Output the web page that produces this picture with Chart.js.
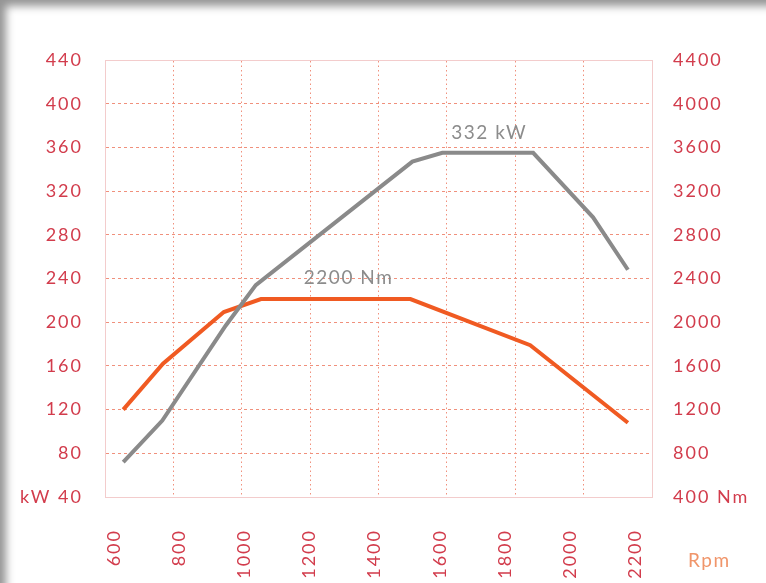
<!DOCTYPE html>
<html>
<head>
<meta charset="utf-8">
<script src="https://cdn.jsdelivr.net/npm/chart.js@4/dist/chart.umd.min.js"></script>
<style>
  html, body { margin: 0; padding: 0; background: #fff; }
  #wrap { position: relative; width: 766px; height: 583px; overflow: hidden; }
  #shade {
    position: absolute; left: 0; top: 0; width: 766px; height: 583px;
    box-shadow: inset 9px 9px 8px -3px rgba(0, 0, 0, 0.42);
    pointer-events: none;
  }
</style>
</head>
<body>
<div id="wrap">
  <canvas id="curve" width="766" height="583"></canvas>
  <div id="shade"></div>
</div>
<script>
// x ticks (rpm) and the two left/right axis ranges
const rpmTicks = [600, 800, 1000, 1200, 1400, 1600, 1800, 2000, 2200];
const kwTicks = [40, 80, 120, 160, 200, 240, 280, 320, 360, 400, 440];
const nmTicks = [400, 800, 1200, 1600, 2000, 2400, 2800, 3200, 3600, 4000, 4400];

// power curve (kW, left axis)
const powerRpm = [628, 748, 943, 1035, 1516, 1608, 1887, 2071, 2178];
const powerKw = [72, 110, 197, 234, 347, 355, 355, 296, 248];

// torque curve (Nm, right axis)
const torqueRpm = [628, 750, 937, 1051, 1510, 1878, 2178];
const torqueNm = [1200, 1620, 2093, 2212, 2212, 1790, 1080];

const tickRed = "#d23c4c";
const gridPink = "#f0907c";
const framePink = "#f3cccc";
const labelFont = { family: "Lato", size: 18 };

// gap the letters a bit, the original face is wide
const spacing = {
  id: "spacing",
  beforeDraw(chart) {
    chart.ctx.letterSpacing = "2px";
  },
};

const notes = {
  id: "notes",
  afterDatasetsDraw(chart) {
    const { ctx, scales } = chart;
    ctx.save();
    ctx.letterSpacing = "1.5px";
    ctx.font = "19px Lato";
    ctx.fillStyle = "#8c8c8c";
    ctx.textAlign = "center";
    ctx.textBaseline = "middle";
    ctx.fillText("332 kW", scales.x.getPixelForValue(1752), scales.y.getPixelForValue(373));
    ctx.fillText("2200 Nm", scales.x.getPixelForValue(1320), scales.y.getPixelForValue(241));
    ctx.fillStyle = "#f0956a";
    ctx.textAlign = "left";
    ctx.fillText("Rpm", chart.chartArea.right + 36, chart.chartArea.bottom + 64);
    ctx.restore();
  },
};

new Chart(document.getElementById("curve"), {
  type: "line",
  data: {
    datasets: [
      {
        label: "kW",
        data: powerRpm.map((r, i) => ({ x: r, y: powerKw[i] })),
        borderColor: "#8a8a8a",
        borderWidth: 4,
        pointRadius: 0,
        yAxisID: "y",
      },
      {
        label: "Nm",
        data: torqueRpm.map((r, i) => ({ x: r, y: torqueNm[i] })),
        borderColor: "#f05a22",
        borderWidth: 4,
        pointRadius: 0,
        yAxisID: "y2",
      },
    ],
  },
  options: {
    responsive: false,
    animation: false,
    layout: { padding: 0 },
    plugins: { legend: { display: false }, tooltip: { enabled: false } },
    scales: {
      x: {
        type: "linear",
        position: "bottom",
        min: 572,
        max: 2252,
        afterBuildTicks: (s) => { s.ticks = rpmTicks.map((v) => ({ value: v })); },
        afterFit: (s) => { s.height = 86; },
        ticks: {
          minRotation: 90,
          maxRotation: 90,
          padding: 24,
          color: tickRed,
          font: labelFont,
          callback: (v) => String(v),
        },
        grid: { display: false },
        border: { color: framePink },
      },
      x2: {
        type: "linear",
        position: "top",
        min: 0,
        max: 8,
        afterFit: (s) => { s.height = 60; },
        ticks: { display: false, stepSize: 1 },
        grid: { color: gridPink, drawTicks: false },
        border: { color: framePink, dash: [1.5, 3] },
      },
      y: {
        position: "left",
        min: 40,
        max: 440,
        afterBuildTicks: (s) => { s.ticks = kwTicks.map((v) => ({ value: v })); },
        afterFit: (s) => { s.width = 105; },
        ticks: {
          padding: 22,
          color: tickRed,
          font: labelFont,
          callback: (v) => (v === 40 ? "kW 40" : String(v)),
        },
        grid: { color: gridPink, drawTicks: false },
        border: { color: framePink, dash: [3, 3] },
      },
      y2: {
        position: "right",
        min: 400,
        max: 4400,
        afterBuildTicks: (s) => { s.ticks = nmTicks.map((v) => ({ value: v })); },
        afterFit: (s) => { s.width = 114; },
        ticks: {
          padding: 21,
          color: tickRed,
          font: labelFont,
          callback: (v) => (v === 400 ? "400 Nm" : String(v)),
        },
        grid: { display: false, drawTicks: false },
        border: { color: framePink },
      },
    },
  },
  plugins: [spacing, notes],
});
</script>
</body>
</html>
